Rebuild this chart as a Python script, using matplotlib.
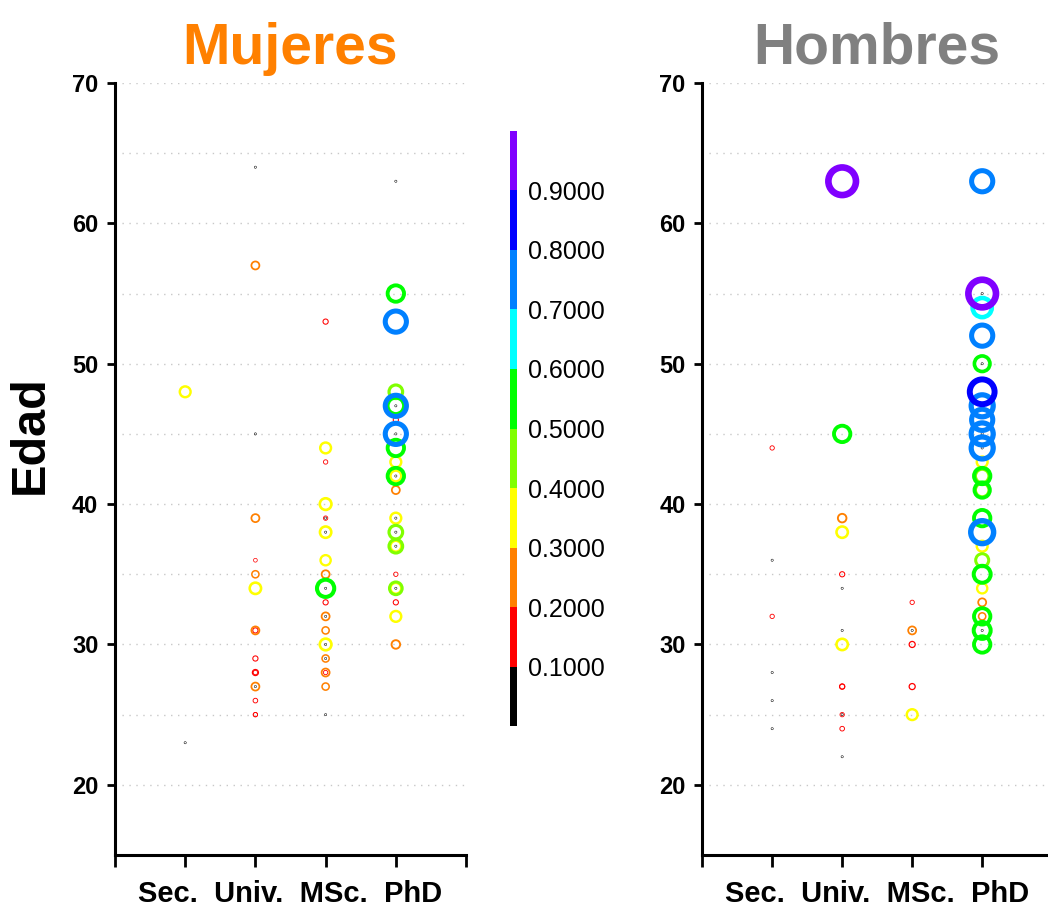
import numpy as np
import matplotlib
matplotlib.use("Agg")
import matplotlib.pyplot as plt
from matplotlib.colors import ListedColormap, BoundaryNorm
from matplotlib.colorbar import ColorbarBase

# categoria: 1=Sec., 2=Univ., 3=MSc., 4=PhD
muj_cat = [1, 1,
           2, 2, 2, 2, 2, 2, 2, 2, 2, 2, 2, 2, 2, 2, 2, 2, 2,
           3, 3, 3, 3, 3, 3, 3, 3, 3, 3, 3, 3, 3, 3, 3, 3, 3, 3, 3, 3, 3, 3, 3, 3,
           4, 4, 4, 4, 4, 4, 4, 4, 4, 4, 4, 4, 4, 4, 4, 4, 4, 4, 4, 4, 4, 4, 4, 4, 4, 4, 4, 4, 4, 4]
muj_edad = [48, 23,
            64, 57, 45, 39, 36, 35, 34, 31, 31, 29, 28, 28, 27, 27, 26, 25, 25,
            53, 44, 43, 40, 39, 39, 38, 38, 36, 35, 34, 34, 33, 32, 32, 31, 30, 30, 29, 29, 28, 28, 27, 25,
            63, 55, 53, 48, 47, 47, 47, 46, 45, 45, 44, 43, 42, 42, 42, 41, 39, 39, 38, 38, 37, 37, 37, 35, 34, 34, 34, 33, 32, 30]
muj_val = [0.35, 0.05,
           0.05, 0.25, 0.05, 0.25, 0.10, 0.22, 0.37, 0.25, 0.15, 0.15, 0.18, 0.12, 0.25, 0.05, 0.13, 0.12, 0.12,
           0.15, 0.35, 0.12, 0.38, 0.12, 0.05, 0.37, 0.05, 0.33, 0.25, 0.58, 0.05, 0.15, 0.25, 0.05, 0.22, 0.38, 0.05, 0.22, 0.05, 0.25, 0.12, 0.22, 0.05,
           0.05, 0.55, 0.72, 0.45, 0.55, 0.72, 0.05, 0.15, 0.72, 0.05, 0.55, 0.35, 0.55, 0.35, 0.05, 0.25, 0.35, 0.05, 0.45, 0.05, 0.45, 0.35, 0.05, 0.12, 0.42, 0.35, 0.05, 0.15, 0.35, 0.27]

hom_cat = [1, 1, 1, 1, 1, 1,
           2, 2, 2, 2, 2, 2, 2, 2, 2, 2, 2, 2, 2, 2,
           3, 3, 3, 3, 3, 3,
           4, 4, 4, 4, 4, 4, 4, 4, 4, 4, 4, 4, 4, 4, 4, 4, 4, 4, 4, 4, 4, 4, 4, 4, 4, 4, 4, 4, 4, 4, 4, 4]
hom_edad = [44, 36, 32, 28, 26, 24,
            63, 45, 39, 38, 35, 34, 31, 30, 27, 27, 25, 25, 24, 22,
            33, 31, 31, 30, 27, 25,
            63, 55, 55, 54, 52, 50, 50, 48, 47, 47, 46, 45, 45, 44, 44, 43, 42, 42, 41, 41, 39, 38, 37, 36, 35, 34, 33, 32, 32, 31, 31, 30]
hom_val = [0.12, 0.05, 0.12, 0.05, 0.05, 0.05,
           0.95, 0.55, 0.27, 0.37, 0.15, 0.05, 0.05, 0.37, 0.15, 0.15, 0.12, 0.05, 0.13, 0.05,
           0.12, 0.25, 0.05, 0.18, 0.18, 0.35,
           0.72, 0.95, 0.05, 0.65, 0.72, 0.52, 0.05, 0.85, 0.75, 0.05, 0.72, 0.75, 0.05, 0.75, 0.05, 0.35, 0.55, 0.45, 0.45, 0.52, 0.55, 0.78, 0.35, 0.43, 0.57, 0.33, 0.25, 0.55, 0.22, 0.57, 0.05, 0.55]

colores = ["#000000", "#FF0000", "#FF8000", "#FFFF00", "#80FF00",
           "#00FF00", "#00FFFF", "#0080FF", "#0000FF", "#8000FF"]
cbar_ticks = [0.1, 0.2, 0.3, 0.4, 0.5, 0.6, 0.7, 0.8, 0.9]
xlabel_txt = "Sec.  Univ.  MSc.  PhD"

cmap = ListedColormap(colores)
norm = BoundaryNorm(np.linspace(0, 1, 11), cmap.N)

plt.rcParams["font.family"] = ["Liberation Sans", "DejaVu Sans"]

fig = plt.figure(figsize=(10.48, 9.09), dpi=100)
ax1 = fig.add_axes([0.1097, 0.0594, 0.335, 0.8493])
ax2 = fig.add_axes([0.670, 0.0594, 0.334, 0.8493])


def panel(ax, cat, edad, val, titulo, color_t):
    cat = np.array(cat)
    edad = np.array(edad)
    val = np.array(val)
    orden = np.argsort(val, kind="stable")
    cat, edad, val = cat[orden], edad[orden], val[orden]
    # grosor y diametro crecen con el valor (px -> pt a 100 dpi)
    lw_px = np.maximum(7.0 * val, 0.5)
    d_px = 35.0 * val + 1.0
    diam = 0.72 * d_px - 0.72 * lw_px
    ax.scatter(cat, edad, s=diam ** 2, facecolors="none",
               edgecolors=cmap(norm(val)), linewidths=0.72 * lw_px, zorder=3)
    ax.set_xlim(0, 5)
    ax.set_ylim(15, 70)
    ax.set_xticks(range(6))
    ax.set_xticklabels([])
    ax.set_yticks(range(20, 71, 10))
    ax.set_yticks(range(25, 70, 10), minor=True)
    ax.tick_params(axis="x", direction="out", length=8.5, width=2)
    ax.tick_params(axis="y", which="major", direction="out", length=6, width=2,
                   pad=6, labelsize=17)
    ax.tick_params(axis="y", which="minor", length=0)
    for lab in ax.get_yticklabels():
        lab.set_fontweight("bold")
    ax.grid(axis="y", which="both", color="#c8c8c8", linestyle=(0, (1, 4)), linewidth=1)
    ax.set_axisbelow(True)
    for s in ["top", "right"]:
        ax.spines[s].set_visible(False)
    for s in ["left", "bottom"]:
        ax.spines[s].set_linewidth(2.2)
    ax.set_xlabel(xlabel_txt, fontsize=21, fontweight="bold", labelpad=6)
    ax.set_title(titulo, fontsize=41, fontweight="bold", color=color_t, pad=14)


panel(ax1, muj_cat, muj_edad, muj_val, "Mujeres", "#FF8000")
panel(ax2, hom_cat, hom_edad, hom_val, "Hombres", "#808080")

fig.text(30 / 1048, 1 - 435 / 909, "Edad", rotation=90, fontsize=35,
         fontweight="bold", ha="center", va="center")

cax = fig.add_axes([0.4866, 0.2013, 0.0067, 0.6546])
cb = ColorbarBase(cax, cmap=cmap, norm=norm, ticks=cbar_ticks)
cb.outline.set_visible(False)
cb.ax.minorticks_off()
cb.ax.tick_params(which="both", length=0, pad=8, labelsize=18)
cb.ax.set_yticklabels(["%.4f" % t for t in cbar_ticks])

fig.savefig("out.png", dpi=100)
